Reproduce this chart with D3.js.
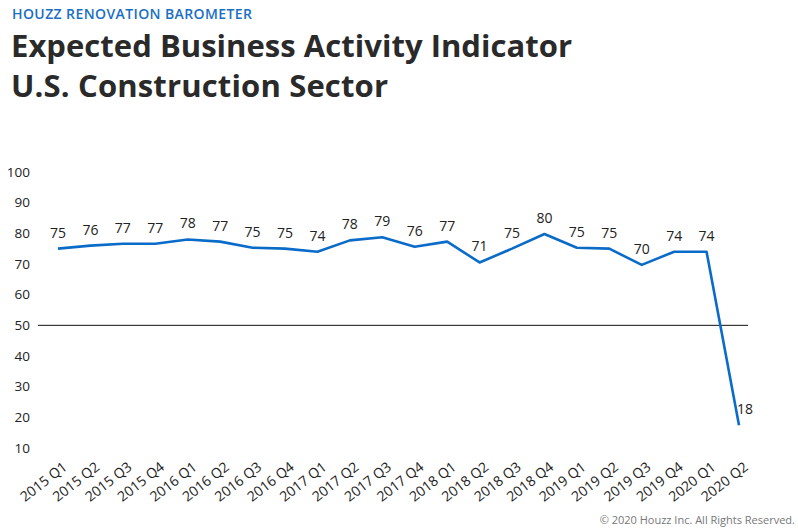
<!DOCTYPE html>
<html>
<head>
<meta charset="utf-8">
<script src="https://cdn.jsdelivr.net/npm/d3@7"></script>
<style>
  body { margin: 0; background: #fff; }
  svg { display: block; font-family: "Open Sans", Lato, sans-serif; }
</style>
</head>
<body>
<svg id="svg" width="798" height="531"></svg>
<script>
const quarters = ['2015 Q1', '2015 Q2', '2015 Q3', '2015 Q4', '2016 Q1', '2016 Q2', '2016 Q3', '2016 Q4',
  '2017 Q1', '2017 Q2', '2017 Q3', '2017 Q4', '2018 Q1', '2018 Q2', '2018 Q3', '2018 Q4',
  '2019 Q1', '2019 Q2', '2019 Q3', '2019 Q4', '2020 Q1', '2020 Q2']
const values = [75, 76, 76.6, 76.6, 78, 77.3, 75.3, 75, 74, 77.7, 78.7, 75.6, 77.3, 70.5, 75, 79.8,
  75.3, 75, 69.7, 74, 74, 17.4]
const labels = [75, 76, 77, 77, 78, 77, 75, 75, 74, 78, 79, 76, 77, 71, 75, 80, 75, 75, 70, 74, 74, 18]
const yTicks = [10, 20, 30, 40, 50, 60, 70, 80, 90, 100]

const svg = d3.select('#svg')

const x = d3.scalePoint()
  .domain(quarters)
  .range([58, 739])

const y = d3.scaleLinear()
  .domain([10, 100])
  .range([448, 172])

// titles
svg.append('text')
  .attr('x', 12).attr('y', 19)
  .attr('textLength', 240)
  .text('HOUZZ RENOVATION BAROMETER')
  .style('font-size', '14px').style('font-weight', '600').style('fill', '#1a6fc4')

svg.append('text')
  .attr('x', 11).attr('y', 57)
  .attr('textLength', 561)
  .text('Expected Business Activity Indicator')
  .style('font-size', '31px').style('font-weight', 'bold').style('fill', '#2a2a2a')

svg.append('text')
  .attr('x', 11).attr('y', 97)
  .attr('textLength', 377)
  .text('U.S. Construction Sector')
  .style('font-size', '31px').style('font-weight', 'bold').style('fill', '#2a2a2a')

// y axis labels
svg.append('g')
  .selectAll('text')
  .data(yTicks)
  .join('text')
  .attr('x', 30)
  .attr('y', d => y(d))
  .attr('dy', '0.35em')
  .attr('text-anchor', 'end')
  .text(d => d)
  .style('font-size', '13.5px').style('fill', '#222')

// reference line at 50
svg.append('line')
  .attr('x1', 38).attr('x2', 748)
  .attr('y1', y(50)).attr('y2', y(50))
  .attr('stroke', '#111').attr('stroke-width', 1)

// x labels
svg.append('g')
  .selectAll('text')
  .data(quarters)
  .join('text')
  .attr('transform', d => `translate(${x(d) + 4}, 461) rotate(-38)`)
  .attr('text-anchor', 'end')
  .attr('dy', '0.7em')
  .text(d => d)
  .style('font-size', '14px').style('fill', '#222')

// line
const line = d3.line()
  .x((d, i) => x(quarters[i]))
  .y(d => y(d))

svg.append('path')
  .datum(values)
  .attr('d', line)
  .attr('fill', 'none')
  .attr('stroke', '#0a6bc9')
  .attr('stroke-width', 2.6)
  .attr('stroke-linejoin', 'round')

// data labels
const last = quarters.length - 1
svg.append('g')
  .selectAll('text')
  .data(labels)
  .join('text')
  .attr('x', (d, i) => i === last ? x(quarters[i]) + 6 : x(quarters[i]))
  .attr('y', (d, i) => y(values[i]) - 11)
  .attr('text-anchor', 'middle')
  .text(d => d)
  .style('font-size', '14px').style('fill', '#222')

// footer
svg.append('text')
  .attr('x', 795).attr('y', 524)
  .attr('text-anchor', 'end')
  .text('© 2020 Houzz Inc. All Rights Reserved.')
  .style('font-size', '11px').style('fill', '#777')
</script>
</body>
</html>
